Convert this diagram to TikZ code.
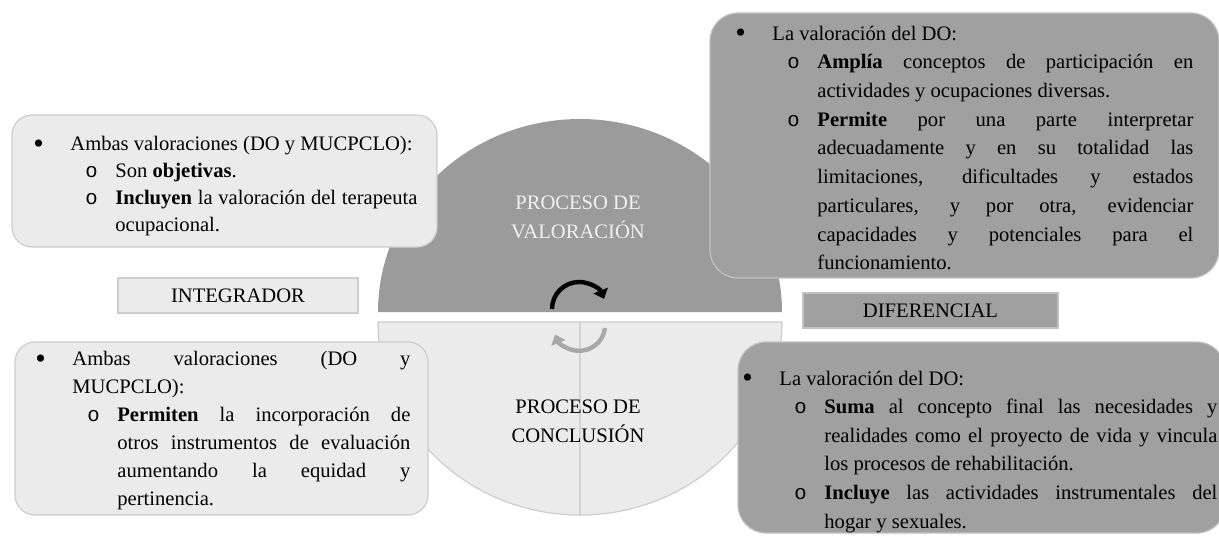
\documentclass[tikz,border=0pt]{standalone}
\usepackage{fontspec}
\setmainfont{Liberation Serif}
\newfontfamily\monof{Liberation Mono}
\usetikzlibrary{arrows.meta}
\hbadness=10000
\definecolor{circdark}{HTML}{9B9B9B}
\definecolor{boxdark}{HTML}{A0A0A0}
\definecolor{boxlight}{HTML}{EBEBEB}
\definecolor{edgelight}{HTML}{CDCDCD}
\definecolor{edgedark}{HTML}{C2C2C2}
\definecolor{arrowgray}{HTML}{A8A8A8}
\newlength{\hnga}\setlength{\hnga}{18.5pt}
\newlength{\hngb}\setlength{\hngb}{26pt}
\newlength{\hngc}\setlength{\hngc}{41pt}
\newcommand{\bigbul}{\raisebox{-1.3pt}{\fontsize{15}{15}\selectfont\textbullet}}
\newcommand{\itm}{\par\noindent\hangindent=\hnga\hangafter=1\strut\makebox[\hnga][l]{\bigbul}}
\newcommand{\subitm}{\par\noindent\hangindent=\hngc\hangafter=1\strut\hspace*{\hngb}\makebox[\dimexpr\hngc-\hngb\relax][l]{\monof o}}
\begin{document}
\begin{tikzpicture}[x=0.5pt,y=-0.5pt,
  lbox/.style={draw=edgelight,fill=boxlight,line width=0.6pt,rounded corners=10pt},
  dbox/.style={draw=edgedark,fill=boxdark,line width=0.6pt,rounded corners=14pt},
  tag/.style={line width=0.6pt,minimum width=#1,minimum height=17.5pt,inner sep=0pt,font=\fontsize{10.3}{12}\selectfont},
  txt/.style={anchor=north west,inner sep=0pt,align=justify,text width=#1},
  mid/.style={align=center,font=\fontsize{10.3}{14.5}\selectfont}]
\useasboundingbox (0,0) rectangle (1219,536);

% the two halves of the circle
\fill[circdark] (378,312) arc[start angle=180,end angle=0,x radius=101pt,y radius=96.5pt] -- cycle;
\filldraw[fill=boxlight,draw=edgelight,line width=0.6pt] (580,322) -- (378,322)
   arc[start angle=180,end angle=270,x radius=101pt,y radius=96.5pt] -- cycle;
\filldraw[fill=boxlight,draw=edgelight,line width=0.6pt] (580,322) -- (782,322)
   arc[start angle=0,end angle=-90,x radius=101pt,y radius=96.5pt] -- cycle;

% turning arrows
\draw[line width=2.2pt,-{Triangle[length=4.5pt,width=7.5pt]}] (552,309)
   arc[start angle=180,end angle=22,radius=13.5pt];
\draw[line width=2.2pt,arrowgray,-{Triangle[length=4.5pt,width=7.5pt]}] (605,328)
   arc[start angle=-7,end angle=-158,radius=13pt];

\node[mid,text=white!94!black] (valor) at (578,217) {PROCESO DE\\VALORACIÓN};
\node[mid] (concl) at (578,421) {PROCESO DE\\CONCLUSIÓN};

% tags
\node[tag=120pt,draw=edgelight,fill=boxlight] (integ) at (238,295.5) {INTEGRADOR};
\node[tag=127.5pt,draw=edgedark,fill=boxdark] (difer) at (930.5,310.5) {DIFERENCIAL};

% boxes
\node[lbox,minimum width=212.5pt,minimum height=66pt] (tlbox) at (224.5,181) {};
\node[dbox,minimum width=254.5pt,minimum height=132.5pt] (trbox) at (964.5,145.5) {};
\node[lbox,minimum width=206.5pt,minimum height=86.5pt] (blbox) at (221.5,428.5) {};
\node[dbox,minimum width=243.5pt,minimum height=95.5pt] (brbox) at (981.5,437.5) {};

\node[txt=192pt,font=\fontsize{10.3}{13.5}\selectfont] (tltext) at (33,123) {%
  \itm Ambas valoraciones (DO y MUCPCLO):
  \subitm Son \textbf{objetivas}.
  \subitm \textbf{Incluyen} la valoración del terapeuta\linebreak ocupacional.\par};

\node[txt=229pt,font=\fontsize{10.3}{14.35}\selectfont] (trtext) at (735,11) {%
  \itm La valoración del DO:
  \subitm \textbf{Amplía} conceptos de participación en\linebreak
    actividades y ocupaciones diversas.
  \subitm \textbf{Permite} por una parte interpretar\linebreak
    adecuadamente y en su totalidad las\linebreak
    limitaciones, dificultades y estados\linebreak
    particulares, y por otra, evidenciar\linebreak
    capacidades y potenciales para el\linebreak
    funcionamiento.\par};

\node[txt=187.5pt,font=\fontsize{10.3}{14}\selectfont] (bltext) at (35,337) {%
  \itm Ambas valoraciones (DO y\linebreak MUCPCLO):
  \subitm \textbf{Permiten} la incorporación de\linebreak
    otros instrumentos de evaluación\linebreak
    aumentando la equidad y\linebreak
    pertinencia.\par};

\node[txt=237.5pt,font=\fontsize{10.3}{14.3}\selectfont] (brtext) at (742,356) {%
  \itm La valoración del DO:
  \subitm \textbf{Suma} al concepto final las necesidades y\linebreak
    realidades como el proyecto de vida y vincula\linebreak
    los procesos de rehabilitación.
  \subitm \textbf{Incluye} las actividades instrumentales del\linebreak
    hogar y sexuales.\par};

\end{tikzpicture}
\end{document}
